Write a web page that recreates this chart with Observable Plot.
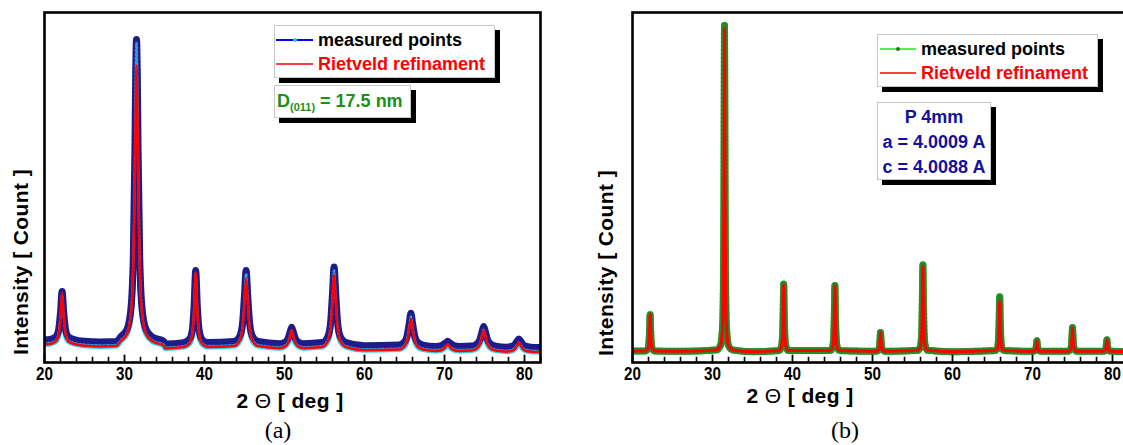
<!DOCTYPE html>
<html>
<head>
<meta charset="utf-8">
<script src="https://cdn.jsdelivr.net/npm/d3@7"></script>
<script src="https://cdn.jsdelivr.net/npm/@observablehq/plot@0.6"></script>
<style>
  html, body { margin: 0; padding: 0; background: #fff; }
  body { width: 1123px; height: 445px; overflow: hidden; position: relative;
         font-family: "Liberation Sans", Arial, sans-serif; }
  .abs { position: absolute; }
  .abs svg { max-width: none !important; }
  .box { position: absolute; background: #fff; border: 1px solid #c8c8c8; box-shadow: 5px 5px 0 #000; box-sizing: border-box; }
  .leg { position: absolute; height: 24px; line-height: 24px; font-size: 18px; font-weight: bold; white-space: nowrap; }
  .axt { position: absolute; font-size: 21px; font-weight: bold; letter-spacing: 0.4px; white-space: nowrap; color: #000; }
  .cap { position: absolute; font-family: "Liberation Serif", "DejaVu Serif", serif; font-size: 24px; color: #000; }
</style>
</head>
<body>
<div id="chartA" class="abs" style="left:0;top:0;width:560px"></div>
<div id="chartB" class="abs" style="left:588px;top:0;width:560px"></div>

<!-- panel (a) legend -->
<div class="box" style="left:274px;top:25px;width:221px;height:53px"></div>
<svg class="abs" style="left:274px;top:25px" width="45" height="53">
  <line x1="2" x2="39" y1="15" y2="15" stroke="#0000ff" stroke-width="2"/>
  <circle cx="21" cy="15" r="2" fill="#33ccee"/>
  <line x1="2" x2="39" y1="39" y2="39" stroke="#ff0000" stroke-width="1.5"/>
</svg>
<div class="leg" style="left:318px;top:28px;color:#000">measured points</div>
<div class="leg" style="left:318px;top:52px;color:#ff0000">Rietveld refinament</div>

<div class="box" style="left:274px;top:85px;width:137px;height:33px"></div>
<div class="leg" style="left:277px;top:89px;color:#1a8f1a">D<sub style="font-size:11px;vertical-align:-4px">(011)</sub> = 17.5 nm</div>

<!-- panel (b) legend -->
<div class="box" style="left:877px;top:34px;width:221px;height:53px"></div>
<svg class="abs" style="left:877px;top:34px" width="45" height="53">
  <line x1="3" x2="39" y1="15" y2="15" stroke="#55ee55" stroke-width="2"/>
  <circle cx="21" cy="15" r="2" fill="#1f7a1f"/>
  <line x1="3" x2="39" y1="39" y2="39" stroke="#ff0000" stroke-width="1.5"/>
</svg>
<div class="leg" style="left:921px;top:37px;color:#000">measured points</div>
<div class="leg" style="left:921px;top:61px;color:#ff0000">Rietveld refinament</div>

<div class="box" style="left:877px;top:102px;width:114px;height:78px"></div>
<div class="leg" style="left:877px;width:114px;text-align:center;top:105px;color:#12129a">P 4mm</div>
<div class="leg" style="left:877px;width:114px;text-align:center;top:130px;color:#12129a">a = 4.0009 A</div>
<div class="leg" style="left:877px;width:114px;text-align:center;top:155px;color:#12129a">c = 4.0088 A</div>

<!-- axis titles and captions -->
<div class="axt" style="left:290px;top:401px;transform:translate(-50%,-50%)">2 <span style="font-weight:normal">Θ</span> [ deg ]</div>
<div class="axt" style="left:21px;top:262px;transform:translate(-50%,-50%) rotate(-90deg)">Intensity [ Count ]</div>
<div class="cap" style="left:278px;top:430px;transform:translate(-50%,-50%)">(a)</div>

<div class="axt" style="left:800px;top:396px;transform:translate(-50%,-50%)">2 <span style="font-weight:normal">Θ</span> [ deg ]</div>
<div class="axt" style="left:606px;top:263px;transform:translate(-50%,-50%) rotate(-90deg)">Intensity [ Count ]</div>
<div class="cap" style="left:845px;top:430px;transform:translate(-50%,-50%)">(b)</div>

<script>
// ---------- Panel (a): 2θ (deg) and intensity (% of frame height) ----------
const angleA = [20, 20.7, 21.4, 21.75, 22.0, 22.2, 22.4, 22.65, 23.0, 23.7, 25, 27, 29,
  29.5, 30.3, 30.8, 31.1, 31.3, 31.4, 31.5, 31.6, 31.7, 31.9, 32.2, 32.7, 33.5, 34.9, 35.1,
  37.4, 38.1, 38.45, 38.7, 38.9, 39.1, 39.35, 39.7, 40.4,
  43.7, 44.4, 44.75, 45.0, 45.2, 45.4, 45.65, 46.0, 46.7,
  49.4, 50.1, 50.45, 50.7, 50.9, 51.1, 51.35, 51.7, 52.4,
  54.7, 55.4, 55.75, 56.0, 56.2, 56.4, 56.65, 57.0, 57.7, 60,
  64.3, 65.0, 65.35, 65.6, 65.8, 66.0, 66.25, 66.6, 67.3,
  68.9, 69.6, 69.95, 70.2, 70.4, 70.6, 70.85, 71.2, 71.9,
  73.4, 74.1, 74.45, 74.7, 74.9, 75.1, 75.35, 75.7, 76.4,
  77.8, 78.5, 78.85, 79.1, 79.3, 79.5, 79.75, 80.1, 80.8, 82];
const fitA = [5.2, 5.3, 6.0, 7.9, 13.2, 20.0, 13.2, 7.9, 6.0, 5.3, 4.8, 4.6, 4.7,
  6.0, 8.1, 13.8, 27.3, 53.6, 73.8, 84.8, 73.8, 53.6, 27.3, 13.8, 8.1, 6.0, 4.8, 4.0,
  4.4, 5.3, 7.6, 14.9, 25.8, 14.9, 7.6, 5.3, 4.4,
  4.7, 6.2, 9.6, 17.2, 23.9, 17.2, 9.6, 6.2, 4.7,
  4.1, 4.6, 5.6, 7.6, 9.3, 7.6, 5.6, 4.6, 4.1,
  4.4, 6.0, 9.6, 17.8, 25.0, 17.8, 9.6, 6.0, 4.4, 3.5,
  3.7, 4.6, 6.4, 9.9, 12.4, 9.9, 6.4, 4.6, 3.7,
  3.3, 3.5, 4.0, 4.7, 5.2, 4.7, 4.0, 3.5, 3.3,
  3.4, 4.1, 5.4, 7.6, 9.1, 7.6, 5.4, 4.1, 3.4,
  3.1, 3.4, 4.0, 5.0, 5.7, 5.0, 4.0, 3.4, 3.1, 3.0];
const measA = [6.2, 6.3, 7.0, 8.9, 14.0, 20.0, 14.0, 8.9, 7.0, 6.3, 5.8, 5.6, 5.7,
  7.0, 9.1, 15.0, 30.0, 60.0, 82.0, 92.0, 82.0, 60.0, 30.0, 15.0, 9.1, 7.0, 5.8, 5.0,
  5.4, 6.3, 8.6, 15.9, 26.0, 15.9, 8.6, 6.3, 5.4,
  5.7, 7.2, 10.8, 19.0, 26.0, 19.0, 10.8, 7.2, 5.7,
  5.1, 5.6, 6.6, 8.4, 9.8, 8.4, 6.6, 5.6, 5.1,
  5.4, 7.0, 10.8, 19.5, 27.0, 19.5, 10.8, 7.0, 5.4, 4.5,
  4.7, 5.6, 7.6, 11.0, 13.8, 11.0, 7.6, 5.6, 4.7,
  4.3, 4.5, 5.0, 5.4, 5.8, 5.4, 5.0, 4.5, 4.3,
  4.4, 5.1, 6.4, 8.6, 10.0, 8.6, 6.4, 5.1, 4.4,
  4.1, 4.4, 5.0, 5.9, 6.4, 5.9, 5.0, 4.4, 4.1, 4.0];

// ---------- Panel (b) ----------
const angleB = [20, 21.6, 21.9, 22.05, 22.13, 22.2, 22.27, 22.35, 22.5, 22.8, 26,
  30.5, 31.0, 31.25, 31.35, 31.43, 31.47, 31.5, 31.53, 31.57, 31.65, 31.75, 32.0, 32.5, 35,
  38.3, 38.6, 38.75, 38.83, 38.9, 38.97, 39.05, 39.2, 39.5,
  44.7, 45.0, 45.15, 45.23, 45.3, 45.37, 45.45, 45.6, 45.9,
  50.4, 50.7, 50.85, 50.93, 51.0, 51.07, 51.15, 51.3, 51.6,
  55.7, 56.0, 56.15, 56.23, 56.3, 56.37, 56.45, 56.6, 56.9, 60,
  65.3, 65.6, 65.75, 65.83, 65.9, 65.97, 66.05, 66.2, 66.5,
  69.95, 70.25, 70.4, 70.48, 70.55, 70.62, 70.7, 70.85, 71.15,
  74.4, 74.7, 74.85, 74.93, 75.0, 75.07, 75.15, 75.3, 75.6,
  78.7, 79.0, 79.15, 79.23, 79.3, 79.37, 79.45, 79.6, 79.9, 82];
const fitB = [3.3, 3.3, 3.8, 5.5, 9.2, 13.8, 9.2, 5.5, 3.8, 3.3, 3.2,
  3.6, 4.9, 9.8, 19.6, 49.3, 81.1, 95.4, 81.1, 49.3, 19.6, 9.8, 4.9, 3.6, 3.1,
  3.4, 4.4, 7.3, 13.9, 22.2, 13.9, 7.3, 4.4, 3.4,
  3.4, 4.3, 7.3, 13.7, 21.9, 13.7, 7.3, 4.3, 3.4,
  3.2, 3.5, 4.3, 6.2, 8.6, 6.2, 4.3, 3.5, 3.2,
  3.5, 4.7, 8.5, 16.9, 27.4, 16.9, 8.5, 4.7, 3.5, 3.1,
  3.4, 4.0, 6.3, 11.2, 17.4, 11.2, 6.3, 4.0, 3.4,
  3.2, 3.3, 3.8, 4.9, 6.2, 4.9, 3.8, 3.3, 3.2,
  3.2, 3.6, 4.6, 7.0, 10.0, 7.0, 4.6, 3.6, 3.2,
  3.2, 3.3, 3.9, 5.0, 6.5, 5.0, 3.9, 3.3, 3.2, 3.1];
const measB = [3.3, 3.3, 3.8, 5.5, 9.2, 13.8, 9.2, 5.5, 3.8, 3.3, 3.2,
  3.6, 4.9, 9.8, 19.6, 49.3, 82.0, 96.3, 82.0, 49.3, 19.6, 9.8, 4.9, 3.6, 3.1,
  3.4, 4.4, 7.3, 13.9, 22.4, 13.9, 7.3, 4.4, 3.4,
  3.4, 4.3, 7.3, 13.7, 22.0, 13.7, 7.3, 4.3, 3.4,
  3.2, 3.5, 4.3, 6.2, 8.6, 6.2, 4.3, 3.5, 3.2,
  3.5, 4.7, 8.5, 17.5, 27.9, 17.5, 8.5, 4.7, 3.5, 3.1,
  3.4, 4.0, 6.5, 12.0, 18.8, 12.0, 6.5, 4.0, 3.4,
  3.2, 3.3, 3.8, 4.9, 6.2, 4.9, 3.8, 3.3, 3.2,
  3.2, 3.6, 4.6, 7.0, 10.0, 7.0, 4.6, 3.6, 3.2,
  3.2, 3.3, 3.9, 5.0, 6.5, 5.0, 3.9, 3.3, 3.2, 3.1];

// ---------- axis ticks ----------
const majorTicks = [20, 30, 40, 50, 60, 70, 80];
const minorTicks = [22, 24, 26, 28, 32, 34, 36, 38, 42, 44, 46, 48, 52, 54, 56, 58,
  62, 64, 66, 68, 72, 74, 76, 78, 82];

const dataA = angleA.map((a, i) => ({angle: a, fit: fitA[i], meas: measA[i]}));
const dataB = angleB.map((a, i) => ({angle: a, fit: fitB[i], meas: measB[i]}));

function axisMarks() {
  return [
    Plot.ruleX(minorTicks, {x: d => d, y1: 0, y2: 1.5, stroke: "#000", strokeWidth: 1.6}),
    Plot.ruleX(majorTicks, {x: d => d, y1: 0, y2: 2.1, stroke: "#000", strokeWidth: 1.8}),
    Plot.frame({stroke: "#000", strokeWidth: 2.6}),
    Plot.axisX(majorTicks, {tickSize: 0, tickPadding: 4, label: null,
      fontSize: 19, fontWeight: "bold",
      fontFamily: "'Liberation Sans', Arial, sans-serif",
      fill: "#000"})
  ];
}

const common = {
  height: 385, marginTop: 12, marginBottom: 23,
  x: {domain: [20, 82]},
  y: {domain: [0, 100], axis: null},
  style: {background: "transparent", overflow: "visible", maxWidth: "none"}
};

function condenseTicks(svg) {
  svg.querySelectorAll('g[aria-label="x-axis tick label"] text').forEach(t => {
    const tr = t.getAttribute("transform") || "";
    t.setAttribute("transform", tr + " scale(0.8,1)");
  });
  return svg;
}

const chartA = Plot.plot({
  ...common, width: 560, marginLeft: 44, marginRight: 20,
  marks: [
    Plot.lineY(dataA, {x: "angle", y: "meas", stroke: "#33ccee", strokeWidth: 6, dy: 3, curve: "monotone-x", clip: true}),
    Plot.lineY(dataA, {x: "angle", y: "meas", stroke: "#1c1c8c", strokeWidth: 7, dy: -1, curve: "monotone-x", clip: true}),
    Plot.lineY(dataA, {x: "angle", y: "meas", stroke: "#3a9ad8", strokeWidth: 2.5, dy: 2.5, strokeDasharray: "1.5 2.5", curve: "monotone-x", clip: true}),
    Plot.lineY(dataA, {x: "angle", y: "fit", stroke: "#ff0000", strokeWidth: 2.5, curve: "monotone-x", clip: true}),
    ...axisMarks()
  ]
});
document.getElementById("chartA").append(condenseTicks(chartA));

const chartB = Plot.plot({
  ...common, width: 550, marginLeft: 44, marginRight: 10,
  marks: [
    Plot.lineY(dataB, {x: "angle", y: "meas", stroke: "#4fd24f", strokeWidth: 7, curve: "monotone-x", clip: true}),
    Plot.lineY(dataB, {x: "angle", y: "meas", stroke: "#2a8a2a", strokeWidth: 7, strokeDasharray: "1 3", curve: "monotone-x", clip: true}),
    Plot.dot(dataB, {x: "angle", y: "meas", r: 1.5, fill: "#1f8a1f", clip: true}),
    Plot.lineY(dataB, {x: "angle", y: "fit", stroke: "#ff0000", strokeWidth: 3, curve: "monotone-x", clip: true}),
    ...axisMarks()
  ]
});
document.getElementById("chartB").append(condenseTicks(chartB));
</script>
</body>
</html>
